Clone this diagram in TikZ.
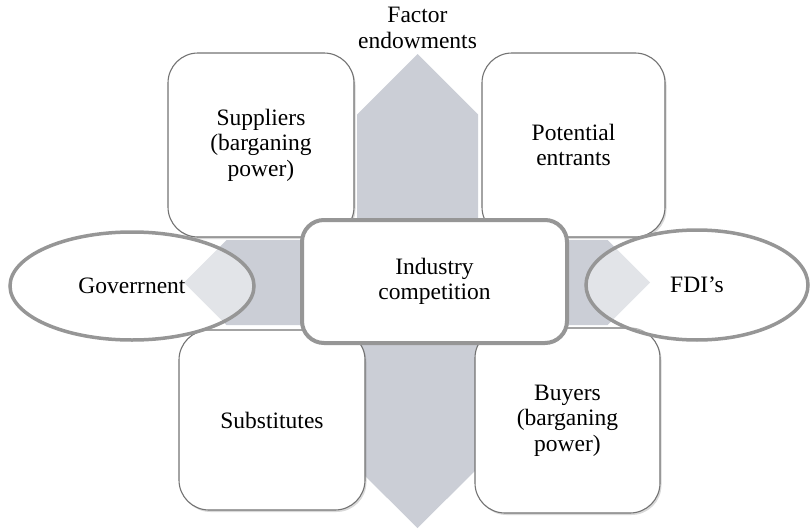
\documentclass[tikz,border=0pt]{standalone}
\usepackage{fontspec}
\setmainfont{Liberation Serif}
\usetikzlibrary{shapes.geometric,shadows}
\definecolor{bandgray}{RGB}{203,206,214}
\definecolor{boxline}{RGB}{115,115,115}
\definecolor{thickline}{RGB}{150,150,150}
\tikzset{
  txt/.style={font=\fontsize{23.5}{25.5}\selectfont, align=center, text=black},
  cornerbox/.style={txt, draw=boxline, line width=1.1pt, fill=white, rounded corners=30pt,
    inner sep=0pt, drop shadow={opacity=0.3, shadow xshift=1.5pt, shadow yshift=-2pt}},
  centerbox/.style={txt, draw=thickline, line width=4pt, fill=white, rounded corners=22pt, inner sep=0pt},
  oval/.style={txt, ellipse, draw=thickline, line width=3.5pt, fill=white, fill opacity=0.45, text opacity=1, draw opacity=1, inner sep=0pt},
}
\begin{document}
\begin{tikzpicture}[x=1pt,y=-1pt]
\useasboundingbox (0,0) rectangle (812,530);
% four-headed gray band
\fill[bandgray] (417.5,54) -- (478,114.5) -- (478,240) -- (607.5,240) -- (650,282.5)
  -- (607.5,325) -- (478,325) -- (478,468) -- (417.5,528) -- (357,468) -- (357,325)
  -- (226.5,325) -- (184,282.5) -- (226.5,240) -- (357,240) -- (357,114.5) -- cycle;
\node[txt] (factor) at (417.5,28) {Factor\\endowments};
\node[cornerbox, minimum width=186pt, minimum height=184pt] (suppliers) at (261,145) {Suppliers\\(barganing\\power)};
\node[cornerbox, minimum width=183pt, minimum height=184pt] (entrants) at (573.5,145) {Potential\\entrants};
\node[cornerbox, minimum width=186pt, minimum height=180pt] (substitutes) at (272,420) {Substitutes};
\node[cornerbox, minimum width=185pt, minimum height=185pt] (buyers) at (567.5,420.5) {Buyers\\(barganing\\power)};
\node[centerbox, minimum width=265pt, minimum height=123pt] (industry) at (434.5,281.5) {Industry\\competition};
\node[oval, minimum width=244pt, minimum height=108pt] (gov) at (132,286) {Goverrnent};
\node[oval, minimum width=222pt, minimum height=110pt] (fdi) at (697,285) {FDI’s};
\end{tikzpicture}
\end{document}
